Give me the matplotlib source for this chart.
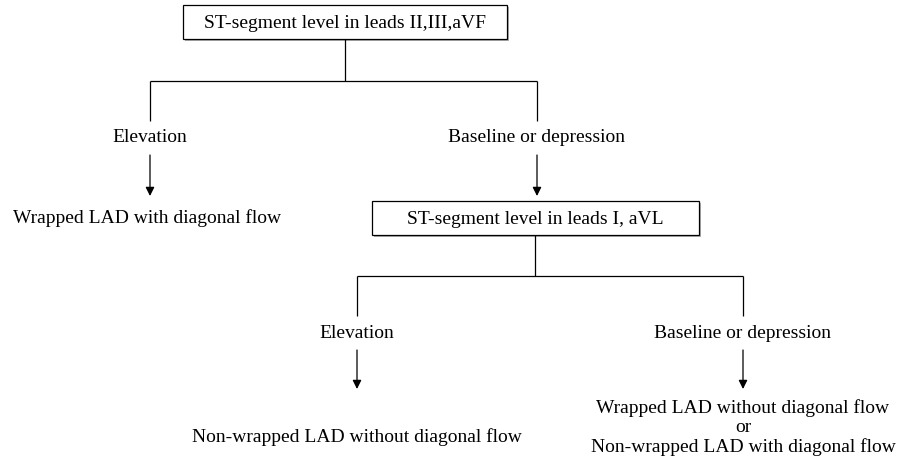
import matplotlib.pyplot as plt

plt.rcParams['font.family'] = ['Liberation Serif', 'DejaVu Serif']

# texts of the flowchart
box_labels = ['ST-segment level in leads II,III,aVF', 'ST-segment level in leads I, aVL']
branch_labels = ['Elevation', 'Baseline or depression']
outcome_top = 'Wrapped LAD with diagonal flow'
outcome_left = 'Non-wrapped LAD without diagonal flow'
outcome_right = ['Wrapped LAD without diagonal flow', 'or', 'Non-wrapped LAD with diagonal flow']

fig = plt.figure(figsize=(8.98, 4.70), dpi=100)
ax = fig.add_axes([0, 0, 1, 1])
ax.set_xlim(0, 898)
ax.set_ylim(470, 0)
ax.axis('off')

lw = 0.9
fs = 14


def line(xs, ys):
    ax.plot(xs, ys, color='black', lw=lw, solid_capstyle='butt')


def arrow(x, y0, y1):
    ax.annotate('', xy=(x, y1), xytext=(x, y0),
                arrowprops=dict(arrowstyle='-|>', color='black', lw=lw,
                                mutation_scale=13, shrinkA=0, shrinkB=0))


def box(x0, x1, y0, y1, text):
    ax.add_patch(plt.Rectangle((x0 + 1.5, y0 + 1.5), x1 - x0, y1 - y0,
                               fill=True, fc='#b0b0b0', ec='none', zorder=1))
    ax.add_patch(plt.Rectangle((x0, y0), x1 - x0, y1 - y0,
                               fill=True, fc='white', ec='black', lw=lw, zorder=2))
    ax.text((x0 + x1) / 2, (y0 + y1) / 2 + 1, text, ha='center', va='center',
            fontsize=fs, zorder=3)


def label(x, y, text):
    ax.text(x, y, text, ha='center', va='center', fontsize=fs)


# first level
box(183, 507, 5, 39, box_labels[0])
line([345, 345], [39, 81])
line([150, 537], [81, 81])
line([150, 150], [81, 121])
line([537, 537], [81, 121])
label(150, 138, branch_labels[0])
label(537, 138, branch_labels[1])
arrow(150, 155, 196)
arrow(537, 155, 196)
label(147, 218, outcome_top)

# second level
box(372, 699, 201, 235, box_labels[1])
line([535, 535], [235, 276])
line([357, 743], [276, 276])
line([357, 357], [276, 316])
line([743, 743], [276, 316])
label(357, 333, branch_labels[0])
label(743, 333, branch_labels[1])
arrow(357, 350, 389)
arrow(743, 350, 389)
label(357, 437, outcome_left)
label(743, 408, outcome_right[0])
label(743, 427, outcome_right[1])
label(743, 447, outcome_right[2])

fig.savefig('out.png', dpi=100, facecolor='white')
